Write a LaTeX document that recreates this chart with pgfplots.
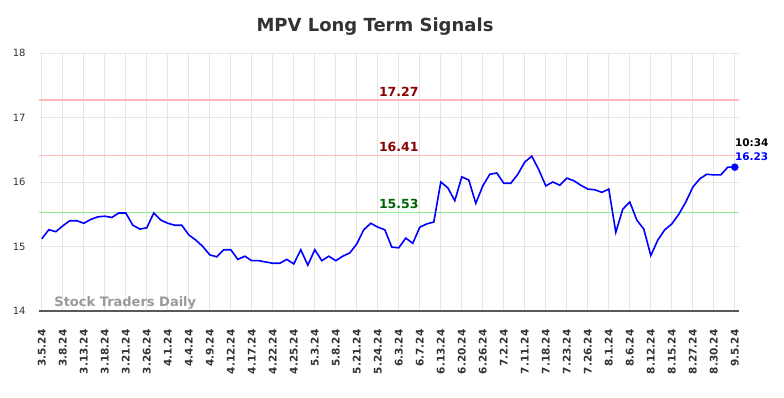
\documentclass[border=0pt]{standalone}
\usepackage{pgfplots}
\pgfplotsset{compat=1.18}
\usepackage{fontspec}
\setmainfont{DejaVu Sans}
\definecolor{txt}{HTML}{333333}
\definecolor{gridc}{HTML}{E6E6E6}
\definecolor{greenl}{HTML}{90EE90}
\definecolor{dred}{HTML}{8B0000}
\definecolor{dgreen}{HTML}{006400}
\begin{document}
\begin{tikzpicture}
\path[use as bounding box] (0,0) rectangle (784bp,-398bp);
\node[font=\bfseries\fontsize{18bp}{20bp}\selectfont, text=txt] at (375bp,-27bp) {MPV Long Term Signals};
\begin{axis}[
  at={(39bp,-311bp)}, anchor=south west,
  scale only axis, width=700bp, height=258bp,
  xmin=-0.4, xmax=99.6, ymin=14, ymax=18,
  clip=false,
  /pgf/number format/assume math mode=true,
  axis x line*=bottom, axis y line*=left,
  x axis line style={draw=black!65, line width=1.2bp, -},
  y axis line style={draw=none},
  tick style={draw=none},
  xmajorgrids, ymajorgrids,
  grid style={draw=gridc, line width=0.8bp},
  ytick={14,15,16,17,18},
  yticklabel style={font=\fontsize{10bp}{12bp}\selectfont, text=txt, xshift=-10bp},
  xtick={0,3,...,99},
  xticklabels={3.5.24,3.8.24,3.13.24,3.18.24,3.21.24,3.26.24,4.1.24,4.4.24,4.9.24,4.12.24,4.17.24,4.22.24,4.25.24,5.3.24,5.8.24,5.21.24,5.24.24,6.3.24,6.7.24,6.13.24,6.20.24,6.26.24,7.2.24,7.11.24,7.18.24,7.23.24,7.26.24,8.1.24,8.6.24,8.12.24,8.15.24,8.27.24,8.30.24,9.5.24},
  xticklabel style={rotate=90, anchor=east, font=\bfseries\fontsize{10.5bp}{11bp}\selectfont, text=txt, xshift=-15bp},
]
\addplot[draw={rgb,255:red,255;green,185;blue,185}, line width=1.8bp, forget plot] coordinates {(-0.4,17.27) (99.6,17.27)};
\addplot[draw={rgb,255:red,255;green,185;blue,185}, line width=1.8bp, forget plot] coordinates {(-0.4,16.41) (99.6,16.41)};
\addplot[draw=greenl, line width=1.6bp, forget plot] coordinates {(-0.4,15.53) (99.6,15.53)};
\node[font=\bfseries\fontsize{12.5bp}{14bp}\selectfont, text=dred, anchor=south] at (axis cs:51,17.27) {17.27};
\node[font=\bfseries\fontsize{12.5bp}{14bp}\selectfont, text=dred, anchor=south] at (axis cs:51,16.41) {16.41};
\node[font=\bfseries\fontsize{12.5bp}{14bp}\selectfont, text=dgreen, anchor=south] at (axis cs:51,15.53) {15.53};
\node[font=\bfseries\fontsize{13bp}{15bp}\selectfont, text=black!40, anchor=west] at (axis cs:1.3,14.13) {Stock Traders Daily};
\addplot[draw=blue, line width=1.6bp] coordinates {
(0,15.12) (1,15.26) (2,15.23) (3,15.32) (4,15.40) (5,15.40) (6,15.36) (7,15.42) (8,15.46) (9,15.47)
(10,15.45) (11,15.52) (12,15.52) (13,15.33) (14,15.27) (15,15.29) (16,15.52) (17,15.41) (18,15.36) (19,15.33)
(20,15.33) (21,15.18) (22,15.10) (23,15.00) (24,14.87) (25,14.84) (26,14.95) (27,14.95) (28,14.80) (29,14.85)
(30,14.78) (31,14.78) (32,14.76) (33,14.74) (34,14.74) (35,14.80) (36,14.73) (37,14.95) (38,14.71) (39,14.95)
(40,14.78) (41,14.85) (42,14.78) (43,14.85) (44,14.90) (45,15.04) (46,15.26) (47,15.36) (48,15.30) (49,15.26)
(50,14.99) (51,14.98) (52,15.13) (53,15.05) (54,15.30) (55,15.35) (56,15.38) (57,16.00) (58,15.91) (59,15.71)
(60,16.08) (61,16.03) (62,15.67) (63,15.94) (64,16.12) (65,16.14) (66,15.98) (67,15.98) (68,16.12) (69,16.31)
(70,16.40) (71,16.19) (72,15.94) (73,16.00) (74,15.95) (75,16.06) (76,16.02) (77,15.95) (78,15.89) (79,15.88)
(80,15.84) (81,15.89) (82,15.22) (83,15.58) (84,15.69) (85,15.41) (86,15.27) (87,14.86) (88,15.10) (89,15.26)
(90,15.35) (91,15.50) (92,15.69) (93,15.92) (94,16.05) (95,16.12) (96,16.11) (97,16.11) (98,16.23) (99,16.23)
};
\addplot[only marks, mark=*, mark size=3.5bp, color=blue] coordinates {(99,16.23)};
\node[font=\bfseries\fontsize{10.5bp}{12bp}\selectfont, text=black, anchor=west, inner sep=0pt] at ([yshift=24bp]axis cs:99,16.23) {10:34};
\node[font=\bfseries\fontsize{10.5bp}{12bp}\selectfont, text=blue, anchor=west, inner sep=0pt] at ([yshift=10bp]axis cs:99,16.23) {16.23};
\end{axis}
\end{tikzpicture}
\end{document}
